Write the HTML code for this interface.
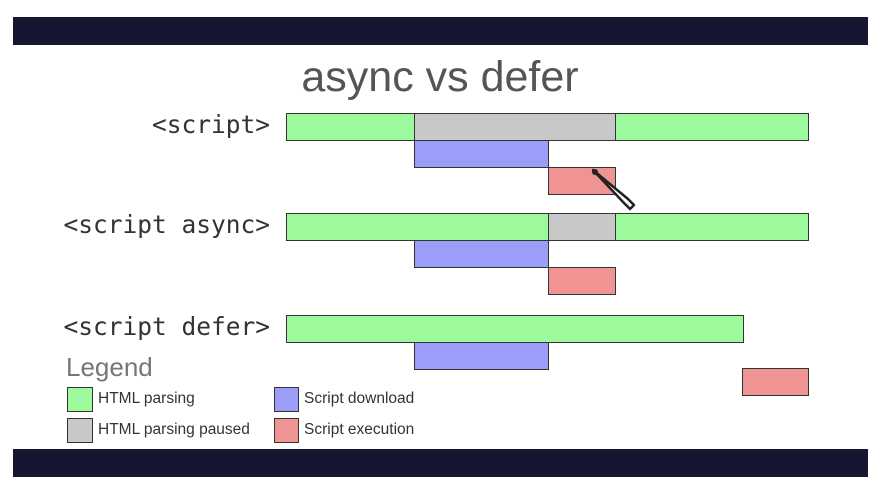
<!DOCTYPE html>
<html><head><style>
body{margin:0;width:892px;height:484px;background:#fff;position:relative;overflow:hidden;font-family:"Liberation Sans",sans-serif}
div{position:absolute;box-sizing:border-box}
.b{border:1.5px solid #333}
.g{background:#9cf99c}.p{background:#c8c8c8}.u{background:#9c9cf9}.r{background:#f09393}
.l{font-family:"DejaVu Sans Mono","Liberation Mono",monospace;font-size:24.5px;color:#333;text-align:right;width:262px;left:8px;line-height:27px}
.t{font-size:15.5px;color:#333;line-height:25px}
</style></head><body>
<div style="left:13px;top:17px;width:855px;height:28px;background:#161632"></div>
<div style="left:13px;top:449px;width:855px;height:28px;background:#161632"></div>
<div style="left:0;width:880px;top:51px;text-align:center;font-size:43px;color:#555;line-height:52px">async vs defer</div>

<div class="l" style="top:111px">&lt;script&gt;</div>
<div class="b g" style="left:286px;top:113px;width:129px;height:28px"></div>
<div class="b p" style="left:414px;top:113px;width:202px;height:28px"></div>
<div class="b g" style="left:615px;top:113px;width:194px;height:28px"></div>
<div class="b u" style="left:414px;top:140px;width:135px;height:28px"></div>
<div class="b r" style="left:548px;top:167px;width:68px;height:28px"></div>

<div class="l" style="top:211px">&lt;script async&gt;</div>
<div class="b g" style="left:286px;top:213px;width:263px;height:28px"></div>
<div class="b p" style="left:548px;top:213px;width:68px;height:28px"></div>
<div class="b g" style="left:615px;top:213px;width:194px;height:28px"></div>
<div class="b u" style="left:414px;top:240px;width:135px;height:28px"></div>
<div class="b r" style="left:548px;top:267px;width:68px;height:28px"></div>

<div class="l" style="top:313px">&lt;script defer&gt;</div>
<div class="b g" style="left:286px;top:315px;width:458px;height:28px"></div>
<div class="b u" style="left:414px;top:342px;width:135px;height:28px"></div>
<div class="b r" style="left:742px;top:368px;width:67px;height:28px"></div>

<div style="left:66px;top:352px;font-size:26px;color:#777;line-height:30px">Legend</div>
<div class="b g" style="left:67px;top:387px;width:26px;height:25px"></div>
<div class="b p" style="left:67px;top:418px;width:26px;height:25px"></div>
<div class="b u" style="left:274px;top:387px;width:25px;height:25px"></div>
<div class="b r" style="left:274px;top:418px;width:25px;height:25px"></div>
<div class="t" style="left:98px;top:386px">HTML parsing</div>
<div class="t" style="left:98px;top:417px">HTML parsing paused</div>
<div class="t" style="left:304px;top:386px">Script download</div>
<div class="t" style="left:304px;top:417px">Script execution</div>

<svg style="position:absolute;left:588px;top:165px" width="50" height="50"><path d="M5 5 L36 38 L42 44 L46 40 L40 34 Z" fill="#fff" stroke="#222" stroke-width="2.5" stroke-linejoin="round"/><circle cx="7" cy="7" r="3" fill="#222"/></svg>
</body></html>
